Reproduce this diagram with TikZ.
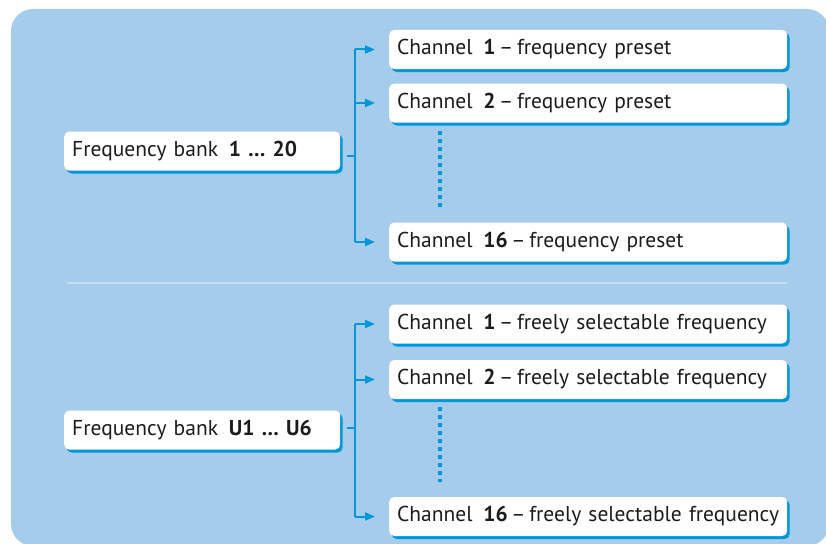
\documentclass[tikz,border=0pt]{standalone}
\usepackage{fontspec}
\setmainfont{PT Sans}
\usetikzlibrary{arrows.meta,shadows}
\definecolor{panelblue}{HTML}{A6CCEB}
\definecolor{linkblue}{HTML}{0096D8}
\definecolor{rulelight}{HTML}{C4DFF3}
\definecolor{inkgray}{HTML}{1C1C1C}
\newcommand\chdash{\hspace{0.17em}–\hspace{0.17em}}

\begin{document}
\begin{tikzpicture}[x=1pt,y=-1pt,
    font=\fontsize{21.5}{24}\selectfont,
    box/.style={fill=white, rounded corners=5pt, text=inkgray, inner xsep=8pt, inner ysep=0pt,
      minimum height=39pt, anchor=west, align=left,
      drop shadow={shadow xshift=2.5pt, shadow yshift=-3pt, fill=linkblue, opacity=1}},
    chbox/.style={box, text width=382pt},
    bankbox/.style={box, text width=260pt},
    link/.style={draw=linkblue, line width=2pt},
    branch/.style={link, -{Triangle[length=10pt,width=8pt]}, shorten >=14pt},
    gap/.style={draw=linkblue, line width=4pt, dash pattern=on 4pt off 4pt}]
                \useasboundingbox (0,0) rectangle (826,543);
                \fill[panelblue, rounded corners=22pt] (11,9) rectangle (829,546);
                \draw[rulelight, line width=2pt] (67,283) -- (787,283);

                \node[bankbox] (bankA) at (64,151) {Frequency bank\enspace\textbf{1 … 20}};
                \node[chbox] (chA1) at (389,49.5) {Channel\enspace\textbf{1}\chdash frequency preset};
                \node[chbox] (chA2) at (389,103) {Channel\enspace\textbf{2}\chdash frequency preset};
                \node[chbox] (chA16) at (389,242) {Channel\enspace\textbf{16}\chdash frequency preset};
                \coordinate (trunkA) at (355,156);
                \draw[link, shorten <=7pt] (bankA.east |- trunkA) -- (trunkA);
                \draw[link] (trunkA |- chA1.west) -- (trunkA |- chA16.west);
                \foreach \c in {chA1,chA2,chA16}
                    \draw[branch] (trunkA |- \c.west) -- (\c.west);
                \draw[gap] ([xshift=51pt,yshift=-8pt]chA2.south west) -- ([xshift=51pt,yshift=15pt]chA16.north west);

                \node[bankbox] (bankB) at (64,430) {Frequency bank\enspace\textbf{U1 … U6}};
                \node[chbox] (chB1) at (389,324) {Channel\enspace\textbf{1}\chdash freely selectable frequency};
                \node[chbox] (chB2) at (389,379.5) {Channel\enspace\textbf{2}\chdash freely selectable frequency};
                \node[chbox] (chB16) at (389,516.5) {Channel\enspace\textbf{16}\chdash freely selectable frequency};
                \coordinate (trunkB) at (355,428);
                \draw[link, shorten <=7pt] (bankB.east |- trunkB) -- (trunkB);
                \draw[link] (trunkB |- chB1.west) -- (trunkB |- chB16.west);
                \foreach \c in {chB1,chB2,chB16}
                    \draw[branch] (trunkB |- \c.west) -- (\c.west);
                \draw[gap] ([xshift=51pt,yshift=-8pt]chB2.south west) -- ([xshift=51pt,yshift=15pt]chB16.north west);
            \end{tikzpicture}
\end{document}
